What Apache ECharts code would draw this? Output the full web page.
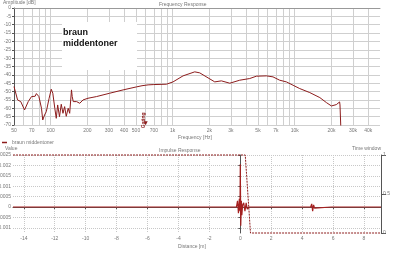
<!DOCTYPE html>
<html>
<head>
    <meta charset="utf-8">
</head>
<body style="margin: 0; background: #fff">
    <div id="container" style="width: 400px; height: 253px"></div>
    <script src="https://cdn.jsdelivr.net/npm/echarts@6/dist/echarts.min.js"></script>
    <script>
        // frequency response
        var freqHz = [50, 53.5, 56.8, 61, 65.4, 69.6, 74.5, 76.3, 80, 84, 86, 89, 92, 97, 101, 104, 108, 111, 114, 118,
            122, 126, 130, 134, 139, 143, 148, 150, 153, 158, 163, 168, 173, 184, 202, 237, 304, 392, 504, 560, 628,
            700, 888, 1006, 1215, 1515, 1664, 1948, 2210, 2506, 2935, 3540, 4275, 4850, 5862, 6635, 7527, 8540, 9690,
            10990, 13280, 16060, 18190, 19980, 21940, 23330, 23500, 24100];
        var levelDb = [-47, -55, -56, -61, -56, -53, -52.8, -51.2, -53, -60, -67, -64, -62, -54, -48.6, -51, -60, -66, -58, -65,
            -57.6, -63, -59, -64.8, -60, -63, -49, -53, -56, -55, -56, -55.5, -57, -55, -54, -53, -51, -49, -47.2, -46.5, -46,
            -45.8, -45.6, -44.2, -40.6, -38.2, -38.8, -41.8, -44.2, -43.6, -45, -43.2, -42.2, -40.8, -40.6, -41.2, -43.2, -44.2, -46.2,
            -48.2, -50.6, -53.6, -56.6, -58.6, -57.8, -56.2, -58, -80];
        var freqGrid = [50, 60, 70, 80, 90, 100, 200, 300, 400, 500, 600, 700, 800, 900, 1000, 2000, 3000, 4000, 5000,
            6000, 7000, 8000, 9000, 10000, 20000, 30000, 40000];
        var freqLabels = [50, 70, 100, 200, 300, 400, 500, 700, 1000, 2000, 3000, 5000, 7000, 10000, 20000, 30000, 40000];

        // impulse response
        var impulseDist = [-14.7, -0.25, -0.18, -0.12, -0.06, -0.02, 0, 0.03, 0.07, 0.1, 0.15, 0.22, 0.3, 0.38, 0.45, 0.55,
            0.9, 0.95, 1.0, 2.0, 2.05, 4.55, 4.62, 4.68, 4.74, 4.8, 4.9, 5.9, 5.95, 6.0, 9.1];
        var impulseVal = [0, 0, 0.0003, -0.0003, 0.0004, -0.0002, 0.00205, -0.0009, 0.0003, -0.0004, 0.0001, 0.0002, -0.0002, 0.0002, -0.0001, 0,
            0, 0.00005, 0, 0, 0.00004, 0, 0.00015, -0.0002, 0.0001, -0.00005, 0, 0, 0.00004, 0, 0];
        var windowDist = [-14.7, 0.32, 0.66, 9.1];
        var windowVal = [1, 1, 0, 0];
        var distTicks = [-14, -12, -10, -8, -6, -4, -2, 0, 2, 4, 6, 8];
        var valueTicks = [-0.001, -0.0005, 0, 0.0005, 0.001, 0.0015, 0.002, 0.0025];

        var red = '#8c1c1c';
        var grey = '#777';
        var font = 'Liberation Sans';
        var small = { fontSize: 5, color: grey, fontFamily: font };

        function pairs(xs, ys) {
            return xs.map(function (x, i) { return [x, ys[i]]; });
        }
        function caption(text, left, top) {
            return { text: text, left: left, top: top, padding: 0, textStyle: Object.assign({ fontWeight: 'normal' }, small) };
        }

        var chart = echarts.init(document.getElementById('container'));
        var option = {
            animation: false,
            title: [
                caption('Amplitude [dB]', 3, 0.5),
                caption('Frequency Response', 159, 2.5),
                caption('Frequency [Hz]', 178, 135),
                caption('Value', 5, 146.5),
                caption('Impulse Response', 159, 148),
                caption('Time window', 352, 146.5),
                caption('Distance [m]', 178, 244)
            ],
            legend: {
                data: ['braun middentoner'],
                left: 2, top: 140, padding: 0,
                itemWidth: 5, itemHeight: 1.5, itemGap: 2,
                icon: 'rect',
                textStyle: small
            },
            grid: [
                { left: 14, right: 20, top: 8, height: 117, outerBoundsMode: 'none', containLabel: false },
                { left: 13, right: 19, top: 155, height: 78, outerBoundsMode: 'none', containLabel: false }
            ],
            xAxis: [{
                gridIndex: 0, type: 'log', logBase: 10, min: 50, max: 50000,
                axisLine: { lineStyle: { color: '#999' } },
                axisTick: { show: false, customValues: freqGrid },
                axisLabel: {
                    customValues: freqLabels, margin: 3, fontSize: 5, color: grey, fontFamily: font,
                    formatter: function (v) { return v >= 1000 ? (v / 1000) + 'k' : String(v); }
                },
                splitLine: { show: true, lineStyle: { color: '#cfcfcf', width: 1 } }
            }, {
                gridIndex: 1, type: 'value', min: -14.7, max: 9.1,
                axisLine: { lineStyle: { color: '#555' } },
                axisTick: { customValues: distTicks, length: 2, lineStyle: { color: '#555' } },
                axisLabel: { customValues: distTicks, margin: 3, fontSize: 5, color: grey, fontFamily: font },
                splitLine: { show: true, lineStyle: { color: '#c8c8c8', type: [1, 1] } }
            }],
            yAxis: [{
                gridIndex: 0, type: 'value', min: -70, max: 0, interval: 5,
                axisLine: { show: true, lineStyle: { color: '#555' } },
                axisTick: { show: true, length: 2, lineStyle: { color: '#555' } },
                axisLabel: { margin: 3, fontSize: 5, color: grey, fontFamily: font },
                splitLine: { lineStyle: { color: '#cfcfcf', width: 1 } }
            }, {
                gridIndex: 1, type: 'value', min: -0.00125, max: 0.0025,
                axisLine: { show: true, lineStyle: { color: '#555' } },
                axisTick: { show: true, customValues: valueTicks, length: 2, lineStyle: { color: '#555' } },
                axisLabel: {
                    customValues: valueTicks, margin: 2, fontSize: 5, color: grey, fontFamily: font,
                    formatter: function (v) { return String(+v.toFixed(4)); }
                },
                splitLine: { lineStyle: { color: '#c8c8c8', type: [1, 1] } }
            }, {
                gridIndex: 1, type: 'value', min: 0, max: 1, interval: 0.5, position: 'right',
                axisLine: { show: true, lineStyle: { color: '#555' } },
                axisTick: { show: true, length: 5, lineStyle: { color: '#555' } },
                axisLabel: { margin: 2, fontSize: 5, color: grey, fontFamily: font },
                splitLine: { show: false }
            }],
            graphic: [{
                type: 'rect', z: 100, shape: { x: 62, y: 22, width: 75, height: 48 },
                style: { fill: '#fff' }
            }, {
                type: 'text', z: 101, left: 63, top: 27,
                style: { text: 'braun\nmiddentoner', font: 'bold 9px "Liberation Sans"', fill: '#111', lineHeight: 11 }
            }],
            series: [{
                name: 'braun middentoner', type: 'line', xAxisIndex: 0, yAxisIndex: 0,
                data: pairs(freqHz, levelDb), showSymbol: false, clip: true,
                lineStyle: { color: red, width: 1 }, itemStyle: { color: red },
                markPoint: {
                    symbol: 'triangle', symbolRotate: 180, symbolSize: 4, silent: true,
                    itemStyle: { color: red },
                    label: { show: true, formatter: 'Gating', rotate: 90, position: 'top', distance: 1, fontSize: 5, fontWeight: 'bold', color: red, fontFamily: font },
                    data: [{ coord: [600, -69] }]
                }
            }, {
                name: 'impulse', type: 'line', xAxisIndex: 1, yAxisIndex: 1,
                data: pairs(impulseDist, impulseVal), showSymbol: false,
                lineStyle: { color: '#a52020', width: 1.2 }
            }, {
                name: 'window', type: 'line', xAxisIndex: 1, yAxisIndex: 2,
                data: pairs(windowDist, windowVal), showSymbol: false, clip: false,
                lineStyle: { color: red, width: 1, type: [2, 1] }
            }]
        };
        chart.setOption(option);
    </script>
</body>
</html>
